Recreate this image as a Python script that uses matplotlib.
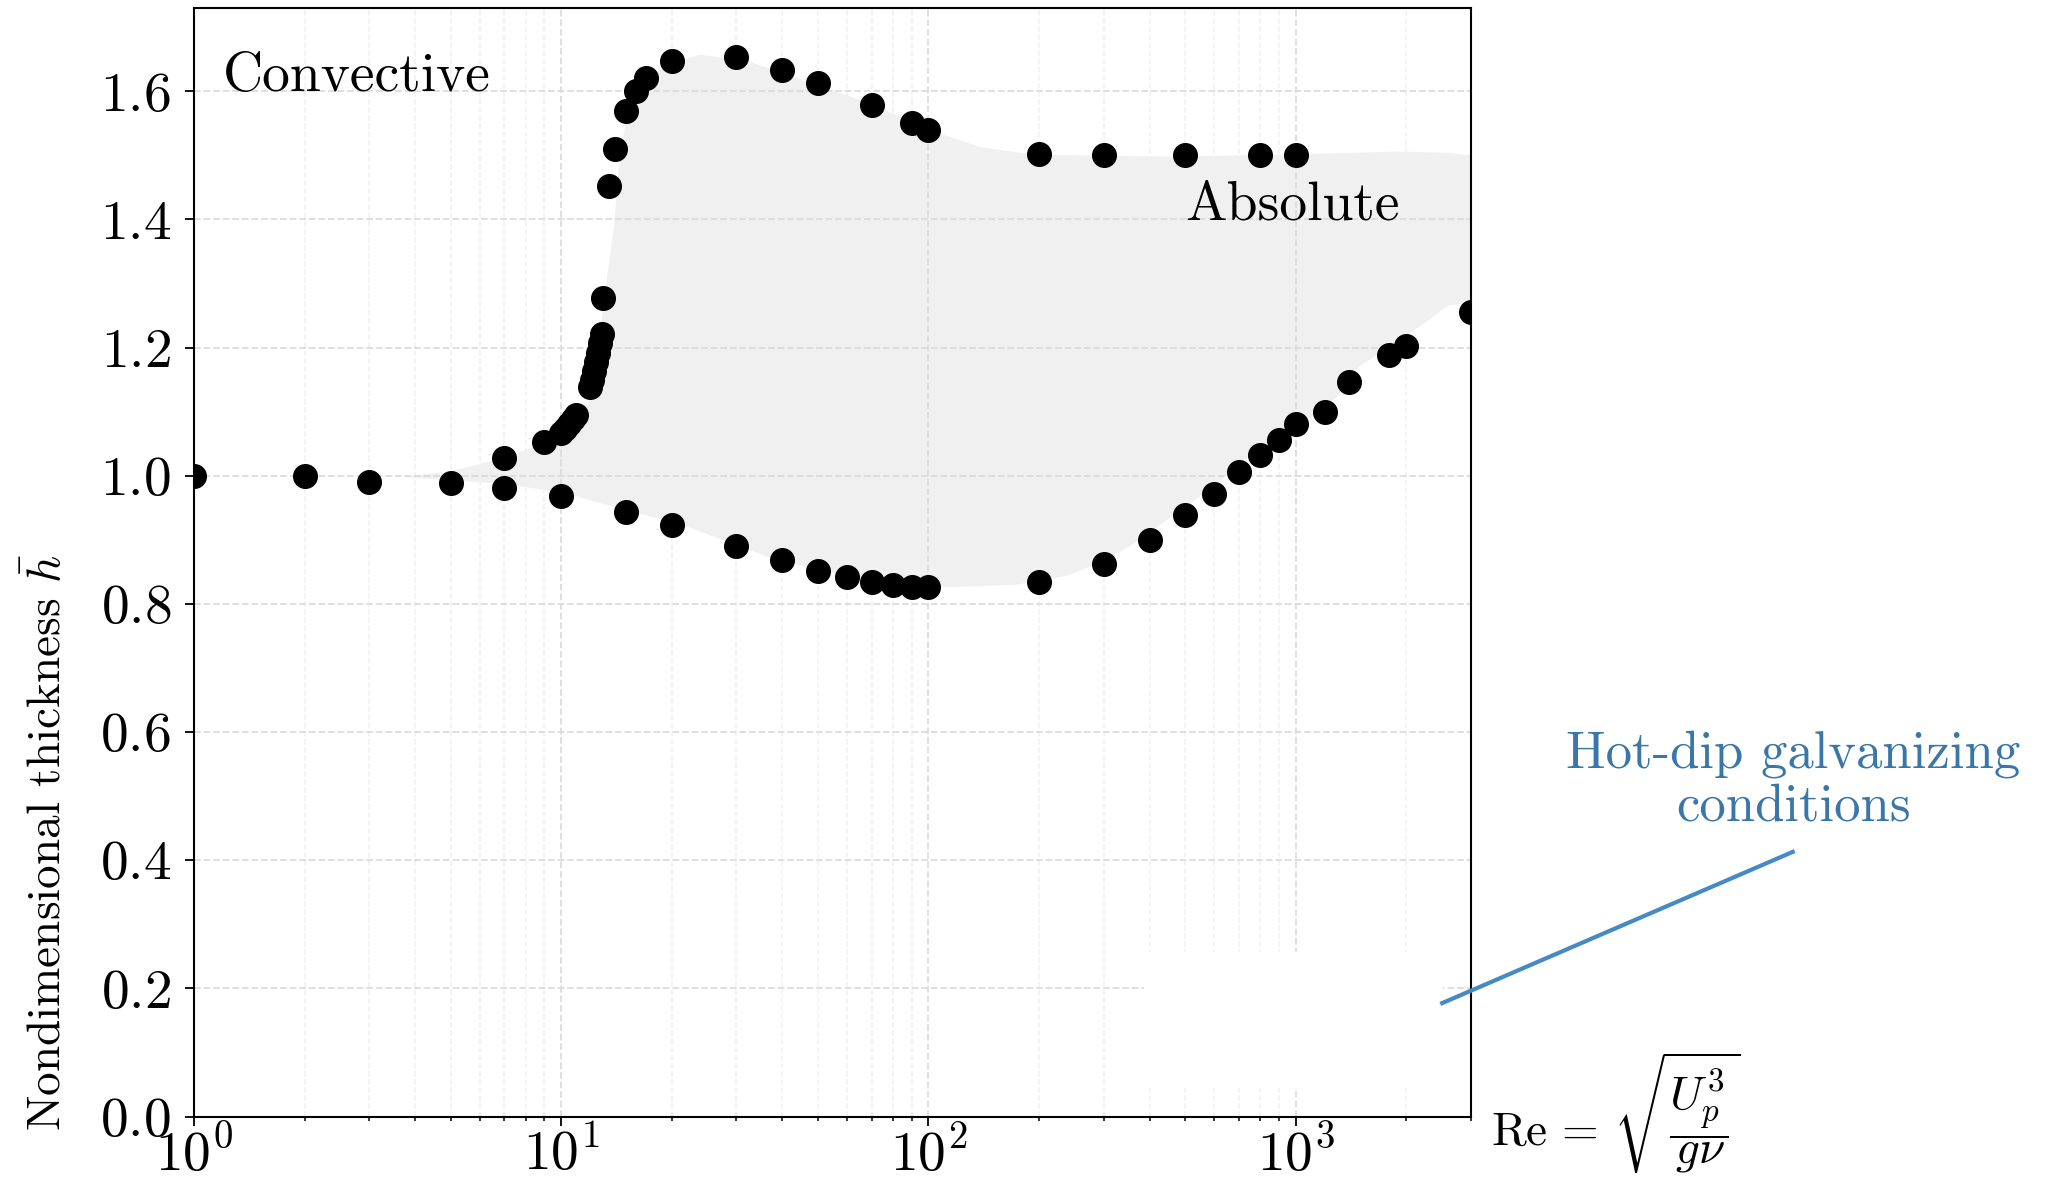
import matplotlib
matplotlib.use("Agg")
import matplotlib.pyplot as plt
from matplotlib.patches import Rectangle

plt.rcParams['font.family'] = 'serif'
plt.rcParams['font.serif'] = ['cmr10']
plt.rcParams['mathtext.fontset'] = 'cm'
plt.rcParams['axes.formatter.use_mathtext'] = True

# upper branch (stable part at small Re, then convective/absolute border)
re_upper = [1, 2, 3, 5, 7, 9, 10, 10.25, 10.5, 10.75, 11,
            12, 12.15, 12.3, 12.45, 12.6, 12.75, 12.9, 13,
            13.5, 14, 15, 16, 17, 20, 30, 40, 50, 70, 90, 100,
            200, 300, 500, 800, 1000]
h_upper = [1.000, 0.999, 0.990, 0.989, 1.028, 1.053, 1.067, 1.073, 1.080, 1.088, 1.095,
           1.139, 1.150, 1.163, 1.178, 1.192, 1.207, 1.222, 1.277,
           1.452, 1.510, 1.570, 1.601, 1.621, 1.648, 1.653, 1.634, 1.613, 1.578, 1.551, 1.539,
           1.502, 1.500, 1.500, 1.501, 1.501]

# lower branch
re_lower = [7, 10, 15, 20, 30, 40, 50, 60, 70, 80, 90, 100,
            200, 300, 400, 500, 600, 700, 800, 900, 1000,
            1200, 1400, 1800, 2000, 3000]
h_lower = [0.981, 0.968, 0.944, 0.923, 0.890, 0.868, 0.852, 0.842, 0.834, 0.830, 0.827, 0.826,
           0.834, 0.862, 0.899, 0.938, 0.972, 1.006, 1.032, 1.056, 1.080,
           1.099, 1.146, 1.188, 1.202, 1.256]

# shaded "absolute" region outline (upper edge left->right, lower edge right->left)
region_re = [3.7, 5.0, 6.9, 8.6, 10.4, 11.85, 12.6, 13.0, 13.9, 14.4, 15.1, 16.3, 19.2,
             23.9, 31.9, 50, 68.8, 100, 138, 194, 449, 921, 1892, 2585, 3000,
             3000, 2585, 2290, 1486, 1288, 1064, 798, 598, 494, 353, 293, 238, 174,
             115, 90, 68.8, 50, 36.3, 22.4, 14.8, 12.8, 10.4, 7.1, 5.0]
region_h = [0.998, 1.007, 1.027, 1.047, 1.074, 1.110, 1.170, 1.265, 1.385, 1.492, 1.564, 1.606, 1.642,
            1.657, 1.648, 1.609, 1.582, 1.540, 1.513, 1.501, 1.498, 1.501, 1.506, 1.504, 1.500,
            1.271, 1.265, 1.242, 1.170, 1.122, 1.086, 1.044, 0.984, 0.949, 0.890, 0.864, 0.844, 0.830,
            0.826, 0.829, 0.838, 0.853, 0.874, 0.919, 0.948, 0.957, 0.972, 0.987, 0.993]

# blank patch and pointer to hot-dip galvanizing conditions
blank_re = (386, 2516)
blank_h = (0.045, 0.257)
pointer_re = [2505, 22560]
pointer_h = [0.177, 0.413]

fig = plt.figure(figsize=(20.57, 11.94), dpi=100)
ax = fig.add_axes([0.0943, 0.0649, 0.6208, 0.9284])

ax.fill(region_re, region_h, color='#f0f0f0', lw=0, zorder=0.3)
ax.plot(re_upper, h_upper, 'o', color='black', ms=17, zorder=3)
ax.plot(re_lower, h_lower, 'o', color='black', ms=17, zorder=3)

ax.set_xscale('log')
ax.set_xlim(1, 3000)
ax.set_ylim(0, 1.73)
ax.set_yticks([0.0, 0.2, 0.4, 0.6, 0.8, 1.0, 1.2, 1.4, 1.6])
ax.set_axisbelow(True)
ax.grid(True, which='major', ls='--', color='#dcdcdc', lw=1.3)
ax.grid(True, which='minor', axis='x', ls='--', color='#f0f0f0', lw=1.1)

ax.add_patch(Rectangle((blank_re[0], blank_h[0]), blank_re[1] - blank_re[0],
                       blank_h[1] - blank_h[0], facecolor='white', edgecolor='none', zorder=0.7))

ax.tick_params(axis='both', which='major', labelsize=40, length=6.5, width=1.3, pad=3)
ax.tick_params(axis='y', which='major', pad=10)
ax.tick_params(axis='x', which='major', pad=1)
ax.tick_params(axis='x', which='minor', length=3, width=1.1)
for s in ax.spines.values():
    s.set_linewidth(1.5)

ax.text(1.2, 1.6, 'Convective', fontsize=40, va='baseline', ha='left')
ax.text(500, 1.4, 'Absolute', fontsize=40, va='baseline', ha='left')

ax.set_ylabel(r'Nondimensional thickness $\bar{h}$', fontsize=34, loc='bottom')
ax.yaxis.set_label_coords(-0.097, -0.013)

ax.set_xlabel(r'$\mathrm{Re}\,=\,\sqrt{\dfrac{U_p^3}{g\nu}}$', fontsize=34)
ax.xaxis.set_label_coords(1.016, -0.027)
ax.xaxis.label.set_ha('left')
ax.xaxis.label.set_va('baseline')

ax.plot(pointer_re, pointer_h, color='#4589c5', lw=3, clip_on=False, zorder=4)
fig.text(0.8717, 0.3467, 'Hot-dip galvanizing\nconditions', fontsize=38,
         color='#3a77a8', ha='center', va='center', linespacing=1.15)

fig.savefig('out.png', dpi=100)
